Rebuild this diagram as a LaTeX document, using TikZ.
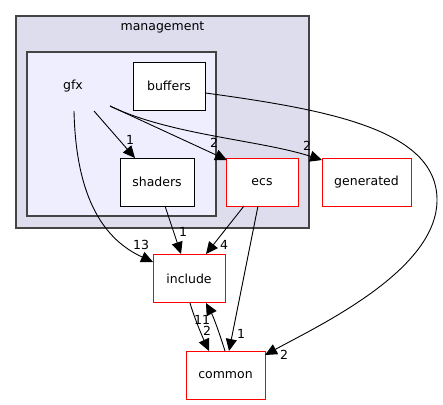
\documentclass[tikz,border=0pt]{standalone}
\usepackage{fontspec}
\setmainfont{DejaVu Sans}
\usetikzlibrary{arrows.meta}
\definecolor{outerfill}{HTML}{DDDDEE}
\definecolor{innerfill}{HTML}{EEEEFF}
\definecolor{clborder}{HTML}{444444}
\begin{document}
\begin{tikzpicture}[x=1pt,y=-1pt,
  every node/.style={font=\fontsize{12.5}{14}\selectfont},
  dirbox/.style={draw=black, fill=white, line width=1pt, minimum height=48pt, inner sep=0pt},
  redbox/.style={draw=red, fill=white, line width=1pt, minimum height=48pt, inner sep=0pt},
  cluster/.style={draw=clborder, line width=1.3pt},
  dep/.style={draw=black, line width=0.9pt, -{Triangle[length=12pt,width=11pt]}},
  lbl/.style={inner sep=0pt, font=\fontsize{12.5}{14}\selectfont}]
\useasboundingbox (0,0) rectangle (443,404);
% clusters
\draw[cluster, fill=outerfill] (16,16) rectangle (309,228);
\node at (162.5,27) {management};
\draw[cluster, fill=innerfill] (27,52) rectangle (216,216);
\node (gfx) at (73,86) {gfx};
% nodes
\node[dirbox, minimum width=72pt] (buffers) at (169,86) {buffers};
\node[dirbox, minimum width=74pt] (shaders) at (157,182) {shaders};
\node[redbox, minimum width=72pt] (ecs) at (262,182) {ecs};
\node[redbox, minimum width=89pt] (generated) at (366.5,182) {generated};
\node[redbox, minimum width=72pt] (include) at (189,278.5) {include};
\node[redbox, minimum width=79pt] (common) at (225.5,375) {common};
% anchors for edge starts
\coordinate (g1) at (94,111);
\coordinate (g2) at (110,106);
\coordinate (g3) at (74,111);
% edges
\draw[dep] (g1) -- (135,158);
\node[lbl] at (130,140) {1};
\draw[dep] (g2) -- (227,160);
\node[lbl] at (214,143) {2};
\draw[dep] (g2) .. controls (170,135) and (260,140) .. (322,160);
\node[lbl] at (307,146) {2};
\draw[dep] (g3) .. controls (76,200) and (105,240) .. (153,262);
\node[lbl] at (141,245) {13};
\draw[dep] (buffers.east) ++(0,7) .. controls (330,110) and (437,130) .. (437,200) .. controls (437,270) and (320,325) .. (265,355);
\node[lbl] at (284,355) {2};
\draw[dep] (165,206) -- (181,254);
\node[lbl] at (183,232) {1};
\draw[dep] (244,206) -- (206,254);
\node[lbl] at (224,245) {4};
\draw[dep] (258,206) -- (229,351);
\node[lbl] at (241,334) {1};
\draw[dep] (190,303) .. controls (195,320) and (203,338) .. (209,351);
\node[lbl] at (207,331) {2};
\draw[dep] (225,351) .. controls (220,335) and (214,318) .. (206,303);
\node[lbl] at (202,320) {11};
\end{tikzpicture}
\end{document}
